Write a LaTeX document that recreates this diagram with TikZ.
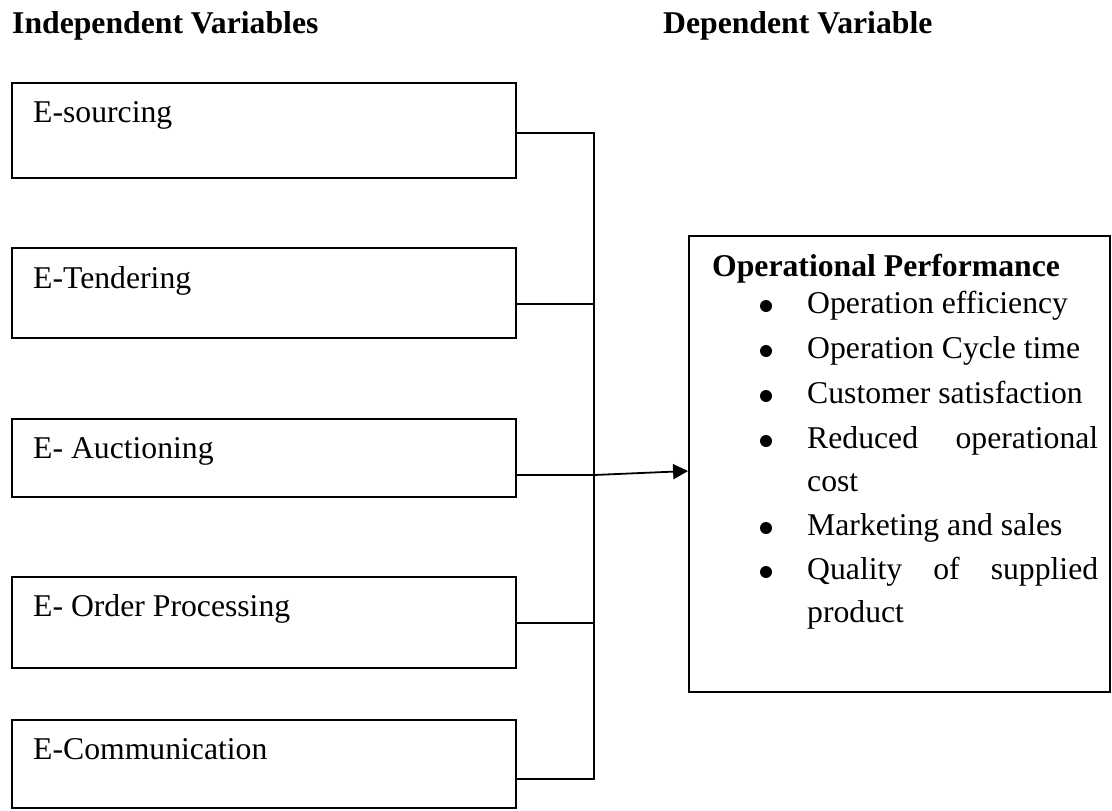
\documentclass[tikz,border=0pt]{standalone}
\usepackage{fontspec}
\setmainfont{Liberation Serif}
\usetikzlibrary{arrows.meta}
\begin{document}
\begin{tikzpicture}[x=1pt,y=-1pt,
  ibox/.style={draw, line width=1.8pt, minimum width=504pt, inner sep=0pt},
  lbl/.style={anchor=base west, inner sep=0pt, font=\fontsize{31.7}{38}\selectfont},
  hd/.style={anchor=base west, inner sep=0pt, font=\fontsize{31.7}{38}\selectfont\bfseries},
  conn/.style={line width=1.8pt},
  bul/.style={circle, fill, inner sep=0pt, minimum size=12pt}]
\useasboundingbox (0,0) rectangle (1112,811);
% headings
\node[hd] (hi) at (12,34) {Independent Variables};
\node[hd] (hdv) at (663,34) {Dependent Variable};
% independent variable boxes
\node[ibox, minimum height=95pt] (b1) at (264,130.5) {};
\node[ibox, minimum height=90pt] (b2) at (264,293) {};
\node[ibox, minimum height=78pt] (b3) at (264,458) {};
\node[ibox, minimum height=91pt] (b4) at (264,622.5) {};
\node[ibox, minimum height=88pt] (b5) at (264,764) {};
\node[lbl] (l1) at (33,122) {E-sourcing};
\node[lbl] (l2) at (33,288) {E-Tendering};
\node[lbl] (l3) at (33,458) {E- Auctioning};
\node[lbl] (l4) at (33,616) {E- Order Processing};
\node[lbl] (l5) at (33,759) {E-Communication};
% bus junctions
\coordinate (j1) at (594,133);
\coordinate (j2) at (594,304);
\coordinate (j3) at (594,475);
\coordinate (j4) at (594,623);
\coordinate (j5) at (594,779);
\draw[conn] (b1.east |- j1) -- (j1) -- (j5) -- (b5.east |- j5);
\draw[conn] (b2.east |- j2) -- (j2);
\draw[conn] (b3.east |- j3) -- (j3);
\draw[conn] (b4.east |- j4) -- (j4);
% dependent variable box
\node[draw, line width=1.8pt, minimum width=421pt, minimum height=456pt, inner sep=0pt] (op) at (899.5,464) {};
\draw[conn, -{Triangle[length=15pt,width=15pt]}] (j3) -- ([yshift=-7pt]op.west);
\node[hd] (opt) at (712,276) {Operational Performance};
\node[bul] (d1) at (766,306) {};
\node[bul] (d2) at (766,351) {};
\node[bul] (d3) at (766,396) {};
\node[bul] (d4) at (766,441) {};
\node[bul] (d5) at (766,528) {};
\node[bul] (d6) at (766,572) {};
\node[lbl] (t1) at (807,313) {Operation efficiency};
\node[lbl] (t2) at (807,358) {Operation Cycle time};
\node[lbl] (t3) at (807,403) {Customer satisfaction};
\node[lbl] (t4) at (807,448) {\hbox to 291pt{Reduced\hfill operational}};
\node[lbl] (t4b) at (807,491) {cost};
\node[lbl] (t5) at (807,535) {Marketing and sales};
\node[lbl] (t6) at (807,579) {\hbox to 291pt{Quality\hfill of\hfill supplied}};
\node[lbl] (t6b) at (807,622) {product};
\end{tikzpicture}
\end{document}
